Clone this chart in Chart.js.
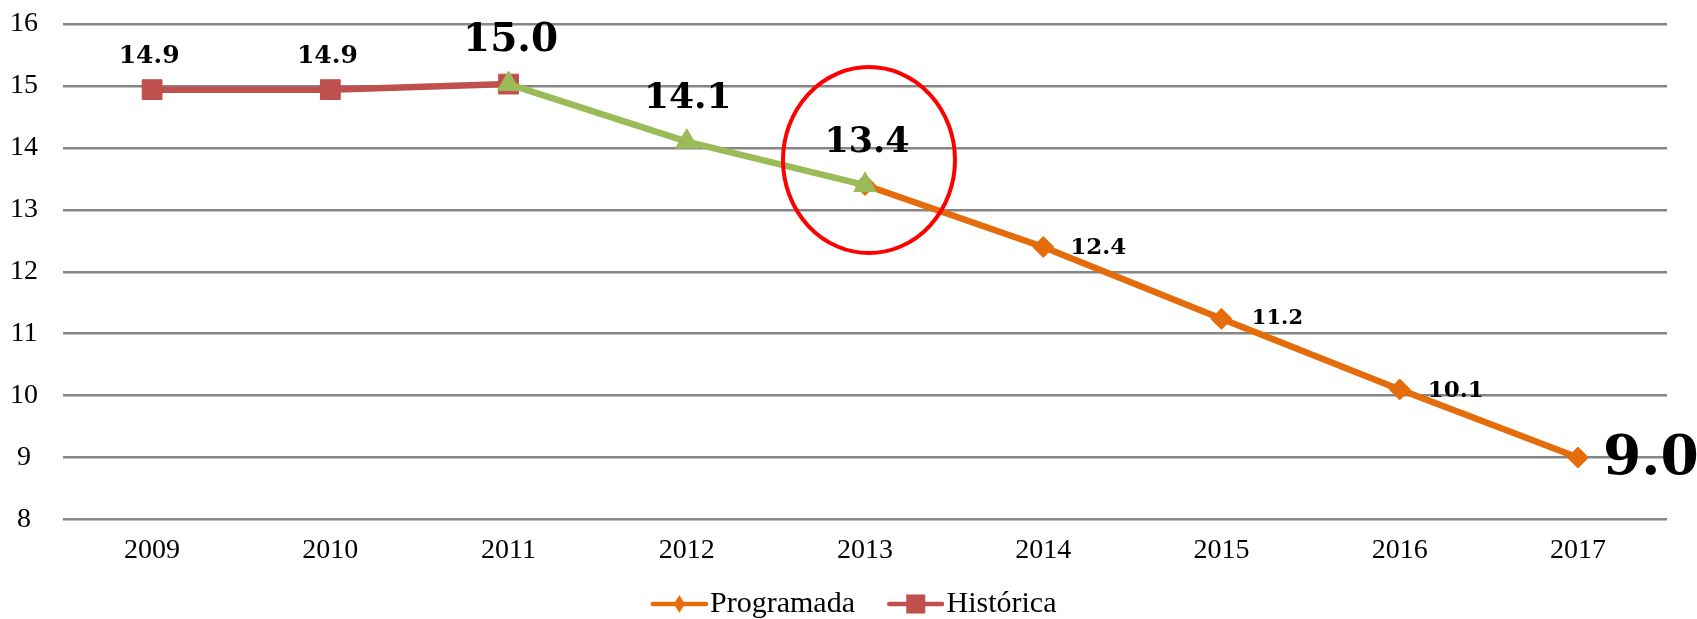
<!DOCTYPE html>
<html>
<head>
<meta charset="utf-8">
<script src="https://cdn.jsdelivr.net/npm/chart.js@4/dist/chart.umd.min.js"></script>
<style>
  html, body { margin: 0; padding: 0; background: #fff; }
  #wrap { width: 1697px; height: 619px; }
</style>
</head>
<body>
<div id="wrap"><canvas id="chart"></canvas></div>
<script>
// datos
const years = ['2009', '2010', '2011', '2012', '2013', '2014', '2015', '2016', '2017'];
const programada = [null, null, null, null, 13.4, 12.4, 11.24, 10.1, 9.0];
const historica = [14.94, 14.94, 15.03, null, null, null, null, null, null];
const meta = [null, null, 15.03, 14.1, 13.4, null, null, null, null];
const yTicks = [8, 9, 10, 11, 12, 13, 14, 15, 16];

// estilo de las etiquetas: [dataset, índice, tamaño, dx, dy]
const labelStyle = [
    [1, 0, 25, -3, -33],
    [1, 1, 25, -3, -33],
    [1, 2, 39, 2, -43],
    [2, 3, 36, 1, -43],
    [2, 4, 35, 2, -42],
    [0, 5, 23, 55, 1],
    [0, 6, 21, 56, 0],
    [0, 7, 23, 56, 2],
    [0, 8, 55, 73, 2]
];

const SERIF = "'Liberation Serif', 'DejaVu Serif', serif";
const BOLD = "'DejaVu Serif', serif";
Chart.defaults.font.family = SERIF;
Chart.defaults.color = '#000';

// icono de leyenda: línea con marcador, desplazado a la derecha de su lienzo
function legendIcon(color, shape) {
    const c = document.createElement('canvas');
    c.width = 80; c.height = 22;
    const g = c.getContext('2d');
    g.strokeStyle = color;
    g.lineWidth = 4.5;
    g.lineCap = 'round';
    g.beginPath(); g.moveTo(25, 11); g.lineTo(78, 11); g.stroke();
    g.fillStyle = color;
    if (shape === 'diamond') {
        g.beginPath(); g.moveTo(51.5, 2); g.lineTo(57, 11); g.lineTo(51.5, 20); g.lineTo(46, 11); g.closePath(); g.fill();
    } else {
        g.fillRect(42, 1.5, 19, 19);
    }
    return c;
}
const icons = [legendIcon('#E46C0A', 'diamond'), legendIcon('#C0504D', 'square')];

// etiquetas y óvalo
const extras = {
    id: 'extras',
    afterDatasetsDraw(chart) {
        const ctx = chart.ctx;
        // óvalo rojo alrededor de 2013
        const p = chart.getDatasetMeta(2).data[4];
        ctx.save();
        ctx.strokeStyle = '#FF0000';
        ctx.lineWidth = 4;
        ctx.beginPath();
        ctx.ellipse(p.x + 4, p.y - 25, 86, 93, 0, 0, Math.PI * 2);
        ctx.stroke();
        ctx.restore();

        const sets = [programada, historica, meta];
        labelStyle.forEach(([ds, i, size, dx, dy]) => {
            const pt = chart.getDatasetMeta(ds).data[i];
            ctx.save();
            ctx.font = `bold ${size}px ${BOLD}`;
            ctx.fillStyle = '#000';
            ctx.textAlign = 'center';
            ctx.textBaseline = 'middle';
            ctx.fillText(sets[ds][i].toFixed(1), pt.x + dx, pt.y + dy);
            ctx.restore();
        });
    }
};

new Chart(document.getElementById('chart'), {
    type: 'line',
    data: {
        labels: years,
        datasets: [
            {
                label: 'Programada',
                data: programada,
                borderColor: '#E46C0A',
                backgroundColor: '#E46C0A',
                borderWidth: 6.5,
                pointStyle: 'rectRot',
                pointRadius: 10.5,
                pointBorderWidth: 1,
                order: 3
            },
            {
                label: 'Histórica',
                data: historica,
                borderColor: '#C0504D',
                backgroundColor: '#C0504D',
                borderWidth: 6.5,
                pointStyle: 'rect',
                pointRadius: 14,
                pointBorderWidth: 1,
                order: 2
            },
            {
                label: 'Meta',
                data: meta,
                borderColor: '#9BBB59',
                backgroundColor: '#9BBB59',
                borderWidth: 6.5,
                pointStyle: 'triangle',
                pointRadius: 13,
                pointBorderWidth: 1,
                order: 1
            }
        ]
    },
    options: {
        responsive: true,
        maintainAspectRatio: false,
        animation: false,
        layout: { padding: { left: 0, right: 0, top: 24, bottom: -10 } },
        plugins: {
            tooltip: { enabled: false },
            legend: {
                position: 'bottom',
                labels: {
                    usePointStyle: true,
                    pointStyleWidth: 54.5,
                    padding: 22,
                    font: { size: 30 },
                    color: '#000',
                    sort: (a, b) => a.datasetIndex - b.datasetIndex,
                    generateLabels: (chart) =>
                        Chart.defaults.plugins.legend.labels.generateLabels(chart)
                            .filter(item => item.datasetIndex < 2)
                            .map(item => ({ ...item, pointStyle: icons[item.datasetIndex] }))
                }
            }
        },
        scales: {
            x: {
                offset: true,
                grid: { display: false, drawTicks: false },
                border: { display: false },
                ticks: { padding: 14, font: { size: 28 }, color: '#000' },
                afterFit: (s) => { s.height = 47.5; }
            },
            y: {
                min: 8,
                max: 16,
                afterBuildTicks: (s) => { s.ticks = yTicks.map(v => ({ value: v })); },
                grid: { color: '#868686', lineWidth: 2.5, drawTicks: false },
                border: { display: false },
                ticks: { padding: 25, crossAlign: 'center', font: { size: 28 }, color: '#000' },
                afterFit: (s) => { s.width = 63; s.paddingTop = 10; s.paddingBottom = 10; }
            },
            // eje vacío a la derecha, sólo reserva el margen
            margen: {
                position: 'right',
                grid: { display: false, drawTicks: false },
                border: { display: false },
                ticks: { display: false },
                afterFit: (s) => { s.width = 30; s.paddingTop = 0; s.paddingBottom = 0; }
            }
        }
    },
    plugins: [extras]
});
</script>
</body>
</html>
